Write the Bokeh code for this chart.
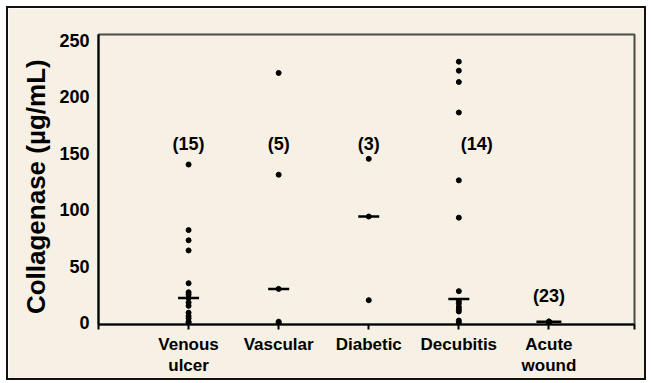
from bokeh.plotting import figure
from bokeh.models import ColumnDataSource, FixedTicker, Range1d
from bokeh.embed import file_html
from bokeh.resources import INLINE
from bokeh.core.properties import value

# ---- data ----
categories = ["Venous\nulcer", "Vascular", "Diabetic", "Decubitis", "Acute\nwound"]
venous = [140, 82, 73, 64, 35, 27, 25, 22, 18, 15, 9, 6, 4, 1, 0]
vascular = [221, 131, 30, 1, 0]
diabetic = [145, 94, 20]
decubitis = [231, 223, 213, 186, 126, 93, 28, 19, 17, 14, 12, 10, 2, 0]
acute = [1, 1, 1, 1, 0.5, 0.5, 0.5, 0.5, 0.5, 0.5, 0.5, 0.5,
         0, 0, 0, 0, 0, 0, 0, 0, 0, 0, 0]
medians = [22, 30, 94, 21, 1]
median_widths = [21, 21, 21, 21, 25]
count_labels = ["(15)", "(5)", "(3)", "(14)", "(23)"]
count_x = [1, 2, 3, 4.2, 5]
count_y = [158, 158, 158, 158, 24]
y_ticks = [0, 50, 100, 150, 200, 250]

groups = [venous, vascular, diabetic, decubitis, acute]
px, py = [], []
for i, g in enumerate(groups):
    for v in g:
        px.append(i + 1)
        py.append(v)

BG = "#F7F0E4"
FONT = "Liberation Sans"

p = figure(
    frame_width=536, frame_height=290,
    min_border_left=90, min_border_right=10, min_border_top=26, min_border_bottom=51,
    x_range=Range1d(0, 5.95), y_range=Range1d(-1.5, 255),
    output_backend="svg", toolbar_location=None,
    background_fill_color=BG, border_fill_color=BG,
)
p.styles = {"border": "2px solid #111", "margin-left": "6px", "margin-top": "6px"}

p.xgrid.visible = False
p.ygrid.visible = False
p.outline_line_color = "#4a4a4a"
p.outline_line_width = 2

# x axis
p.xaxis.ticker = FixedTicker(ticks=[0, 1, 2, 3, 4, 5, 5.95])
p.xaxis.major_label_overrides = {0: "", 1: categories[0], 2: categories[1], 3: categories[2],
                                 4: categories[3], 5: categories[4], 5.95: ""}
p.xaxis.major_tick_out = 5
p.xaxis.major_tick_in = 0
p.xaxis.minor_tick_line_color = None
p.xaxis.major_tick_line_width = 2
p.xaxis.axis_line_width = 2
p.xaxis.axis_line_color = "black"
p.xaxis.major_tick_line_color = "black"
p.xaxis.major_label_standoff = 5
p.xaxis.major_label_text_font = FONT
p.xaxis.major_label_text_font_style = "bold"
p.xaxis.major_label_text_font_size = "17px"
p.xaxis.major_label_text_color = "black"
p.xaxis.major_label_text_line_height = 1.15

# y axis
p.yaxis.ticker = FixedTicker(ticks=y_ticks)
p.yaxis.major_tick_out = 0
p.yaxis.major_tick_in = 0
p.yaxis.minor_tick_line_color = None
p.yaxis.axis_line_width = 2
p.yaxis.axis_line_color = "black"
p.yaxis.major_label_standoff = 9
p.yaxis.major_label_text_font = FONT
p.yaxis.major_label_text_font_style = "bold"
p.yaxis.major_label_text_font_size = "18px"
p.yaxis.major_label_text_color = "black"
p.yaxis.axis_label = "Collagenase (\u00b5g/mL)\u00a0\u00a0"
p.yaxis.axis_label_text_font = FONT
p.yaxis.axis_label_text_font_style = "bold"
p.yaxis.axis_label_text_font_size = "26px"
p.yaxis.axis_label_text_color = "black"
p.yaxis.axis_label_standoff = 5

# points
src = ColumnDataSource(dict(x=px, y=py))
p.scatter("x", "y", source=src, size=5, color="black")

# medians
msrc = ColumnDataSource(dict(x=[1, 2, 3, 4, 5], y=medians, w=median_widths))
p.scatter("x", "y", source=msrc, marker="dash", size="w", line_width=2.5, line_color="black")

# counts
csrc = ColumnDataSource(dict(x=count_x, y=count_y, t=count_labels))
p.text("x", "y", text="t", source=csrc, text_align="center", text_baseline="middle",
       text_font=value(FONT), text_font_style="bold", text_font_size="18px", text_color="black")

open("out.html", "w").write(file_html(p, INLINE))
